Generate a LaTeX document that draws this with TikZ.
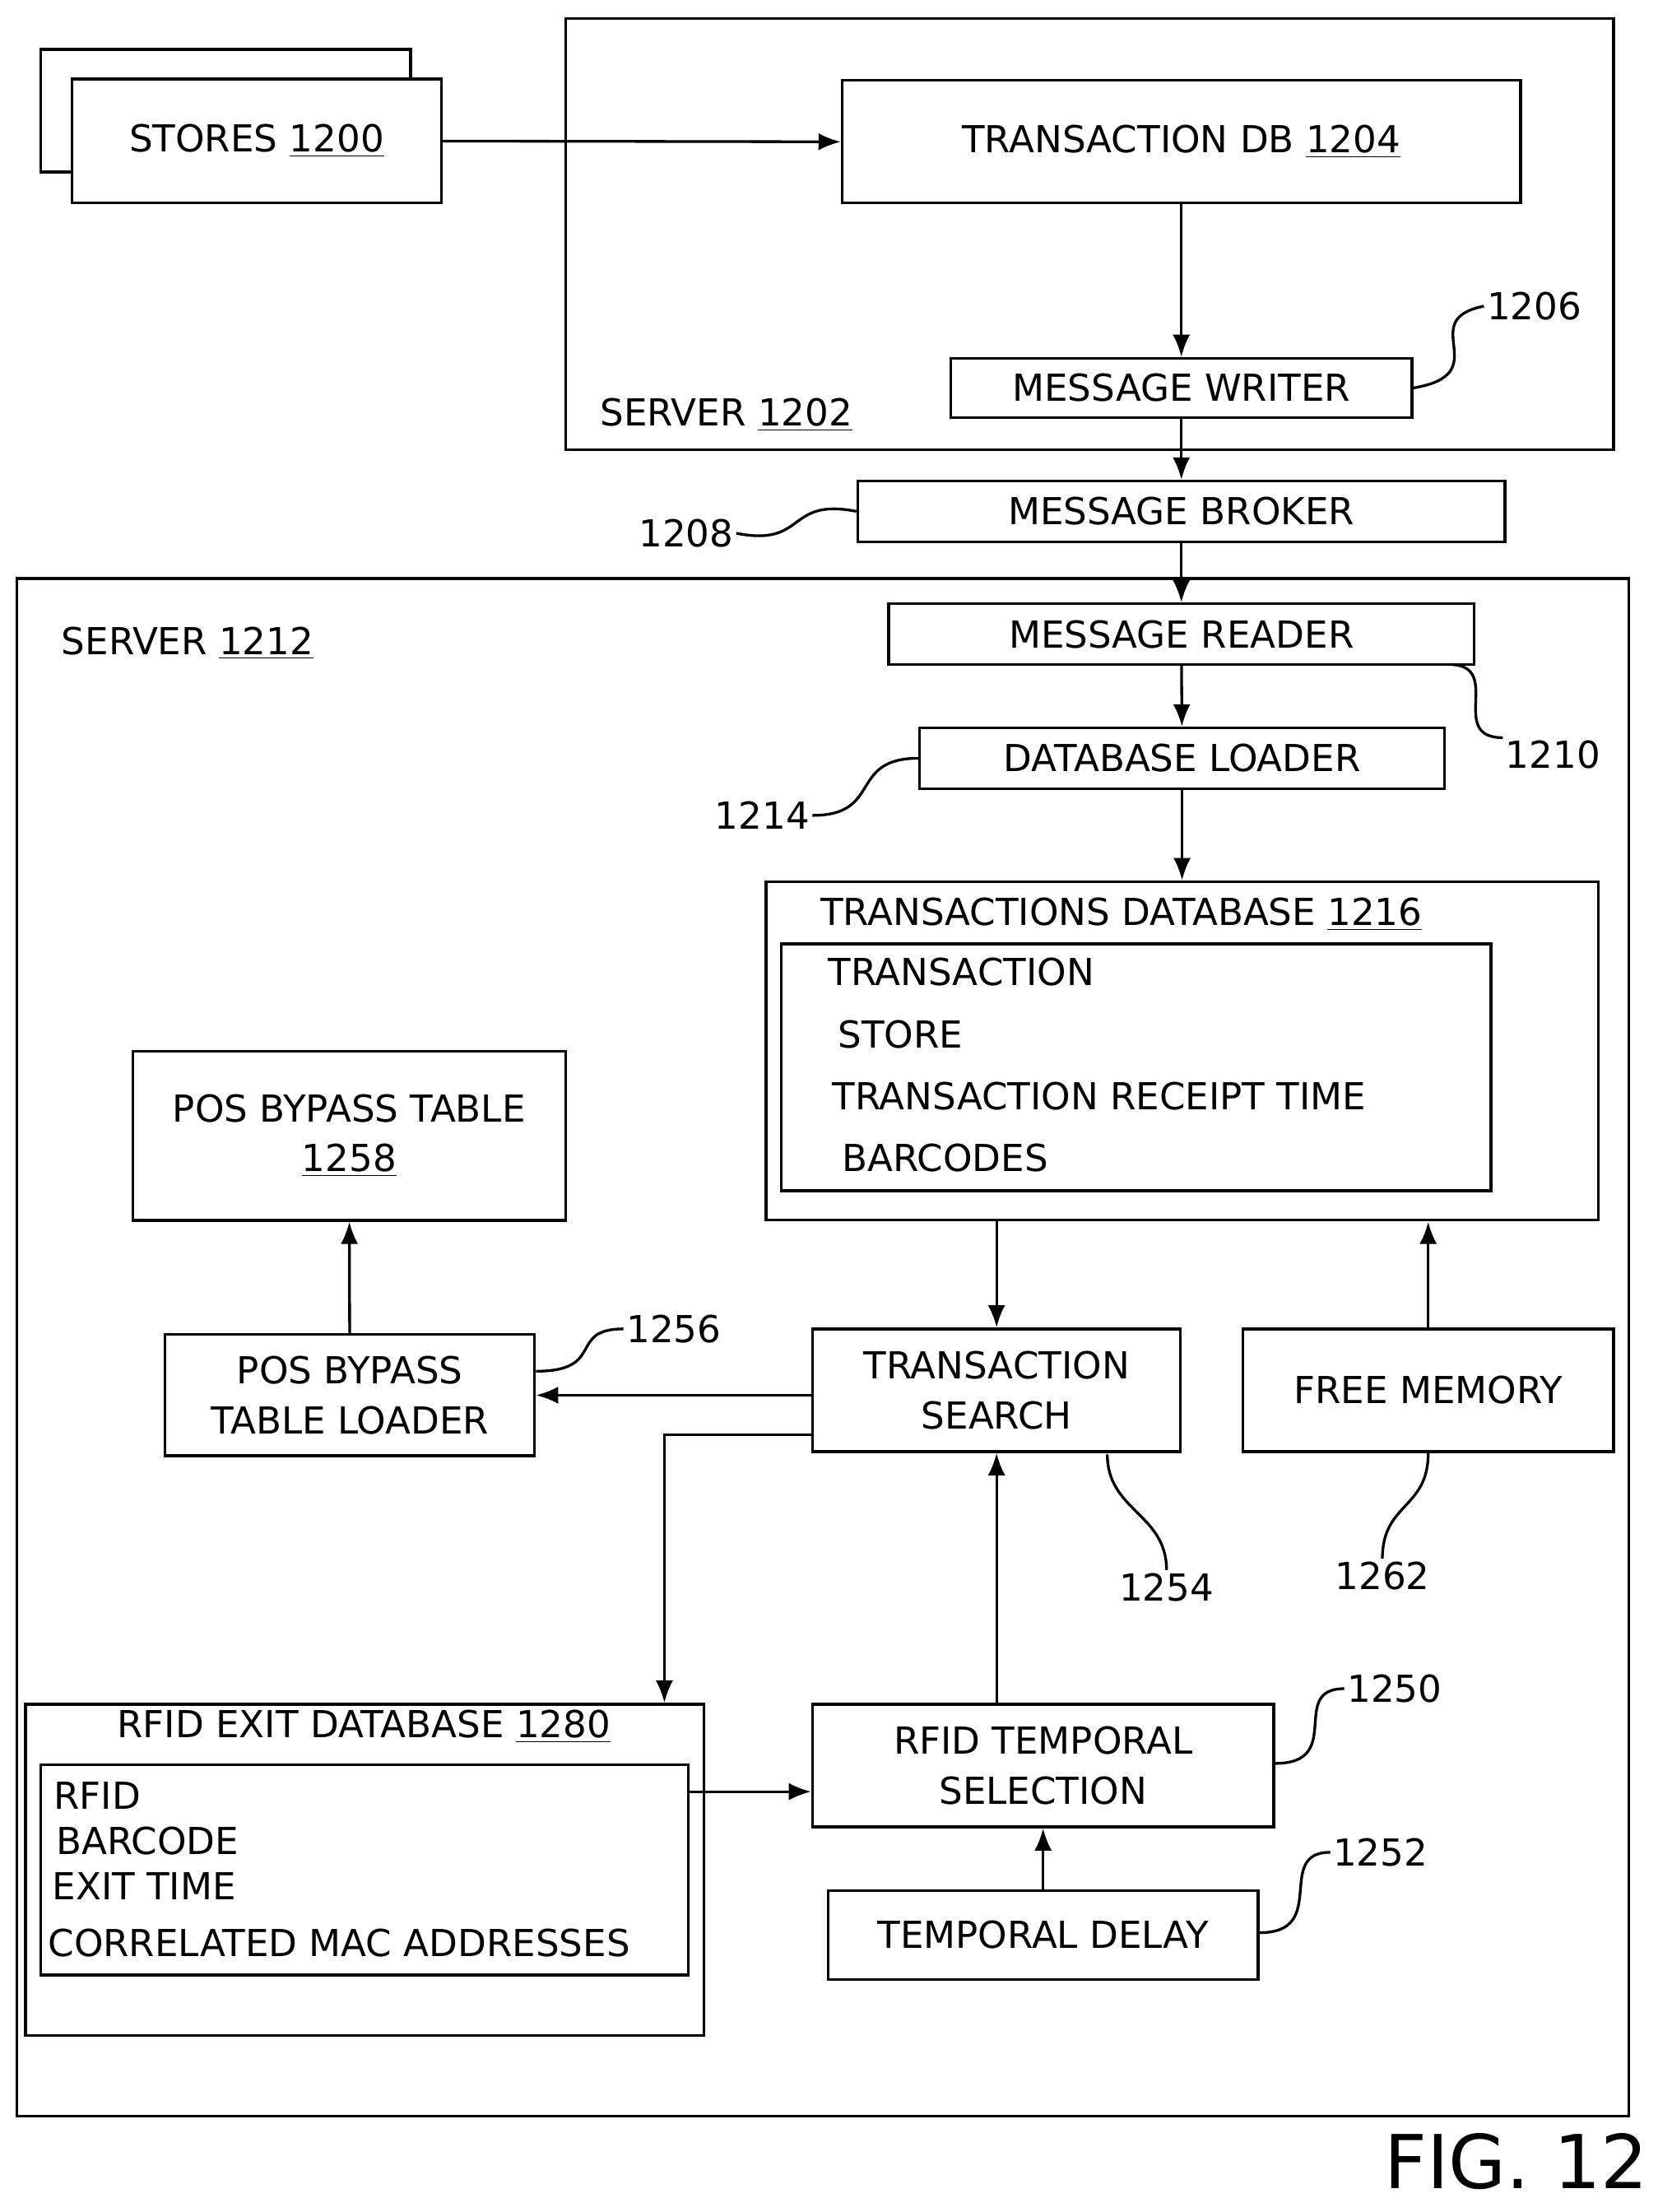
\documentclass[tikz,border=0pt]{standalone}
\usepackage{fontspec}
\setmainfont{DejaVu Sans}
\usetikzlibrary{arrows.meta,positioning}
\tikzset{
  box/.style={draw,line width=1.1pt,align=center,inner sep=0pt,font=\fontsize{15}{20}\selectfont},
  lbl/.style={font=\fontsize{15}{20}\selectfont,inner sep=1pt},
  arr/.style={-{Latex[length=9pt,width=7pt]},line width=1.1pt},
  sq/.style={line width=1.1pt}
}
\begin{document}
\begin{tikzpicture}[x=0.02cm,y=-0.02cm]
\useasboundingbox (0,0) rectangle (1185,1568);
% top server
\draw[line width=1.1pt] (51,122)--(29,122)--(29,35)--(291,35)--(291,56);
\node[box,fill=white,minimum width=5.24cm,minimum height=1.76cm] (stores) at (182,100) {STORES \underline{1200}};
\node[box,minimum width=14.86cm,minimum height=6.12cm] (srvA) at (772.5,166) {};
\node[lbl] (srvAl) at (515,294) {SERVER \underline{1202}};
\node[box,minimum width=9.62cm,minimum height=1.74cm] (tdb) at (837.5,100.5) {TRANSACTION DB \underline{1204}};
\node[box,minimum width=6.54cm,minimum height=0.84cm] (writer) at (837.5,275) {MESSAGE WRITER};
\node[box,minimum width=9.18cm,minimum height=0.86cm] (broker) at (837.5,362.5) {MESSAGE BROKER};
% bottom server
\node[box,minimum width=22.86cm,minimum height=21.8cm] (srvB) at (583.5,955) {};
\node[lbl] (srvBl) at (133,456) {SERVER \underline{1212}};
\node[box,minimum width=8.3cm,minimum height=0.86cm] (reader) at (837.5,449.5) {MESSAGE READER};
\node[box,minimum width=7.44cm,minimum height=0.86cm] (loader) at (838,537.5) {DATABASE LOADER};
\node[box,minimum width=11.8cm,minimum height=4.8cm] (trdb) at (838,745) {};
\node[lbl] (trdbl) at (795,648) {TRANSACTIONS DATABASE \underline{1216}};
\node[box,minimum width=10.06cm,minimum height=3.5cm] (trrec) at (805.5,756.5) {};
\node[lbl,anchor=west] (f1) at (585,689) {TRANSACTION};
\node[lbl,anchor=west] (f2) at (592,733) {STORE};
\node[lbl,anchor=west] (f3) at (588,777) {TRANSACTION RECEIPT TIME};
\node[lbl,anchor=west] (f4) at (595,821) {BARCODES};
\node[box,minimum width=6.14cm,minimum height=2.4cm] (postab) at (247.5,805) {POS BYPASS TABLE\\\underline{1258}};
\node[box,minimum width=5.24cm,minimum height=1.72cm] (posld) at (248,989) {POS BYPASS\\TABLE LOADER};
\node[box,minimum width=5.22cm,minimum height=1.74cm] (search) at (706.5,985.5) {TRANSACTION\\SEARCH};
\node[box,minimum width=5.26cm,minimum height=1.74cm] (free) at (1012.5,985.5) {FREE MEMORY};
\node[box,minimum width=9.62cm,minimum height=4.7cm] (rfid) at (258.5,1325.5) {};
\node[lbl] (rfidl) at (258,1224) {RFID EXIT DATABASE \underline{1280}};
\node[box,minimum width=9.18cm,minimum height=2.98cm] (rfrec) at (258.5,1325.5) {};
\node[lbl,anchor=west] (g1) at (36,1273) {RFID};
\node[lbl,anchor=west] (g2) at (38,1305) {BARCODE};
\node[lbl,anchor=west] (g3) at (35,1337) {EXIT TIME};
\node[lbl,anchor=west] (g4) at (32,1377) {CORRELATED MAC ADDRESSES};
\node[box,minimum width=6.54cm,minimum height=1.74cm] (sel) at (739.5,1251.5) {RFID TEMPORAL\\SELECTION};
\node[box,minimum width=6.1cm,minimum height=1.26cm] (delay) at (739.5,1371.5) {TEMPORAL DELAY};
\node[font=\fontsize{30}{36}\selectfont] (fig) at (1075,1532) {FIG. 12};
% arrows
\draw[arr] (stores.east) -- (tdb.west);
\draw[arr] (tdb) -- (writer);
\draw[arr] (writer) -- (broker);
\draw[arr] (broker) -- (reader);
\draw[arr] (reader) -- (loader);
\draw[arr] (loader) -- (trdb);
\draw[arr] (trdb.south -| search) -- (search);
\draw[arr] (search.west |- 0,989) -- (posld.east |- 0,989);
\coordinate (bend) at (471,1017);
\draw[arr] (search.west |- bend) -- (bend) -- (bend |- rfid.north);
\draw[arr] (posld) -- (postab);
\draw[arr] (free) -- (free |- trdb.south);
\draw[arr] (rfrec.east |- 0,1270) -- (sel.west |- 0,1270);
\draw[arr] (sel.north -| search) -- (search);
\draw[arr] (delay) -- (sel);
% reference numerals
\node[lbl,anchor=west] (n1206) at (1052,217) {1206};
\node[lbl,anchor=east] (n1208) at (522,378) {1208};
\node[lbl] (n1210) at (1101,535) {1210};
\node[lbl,anchor=east] (n1214) at (576,578) {1214};
\node[lbl,anchor=west] (n1256) at (442,942) {1256};
\node[lbl] (n1254) at (827,1125) {1254};
\node[lbl] (n1262) at (980,1117) {1262};
\node[lbl,anchor=west] (n1250) at (953,1197) {1250};
\node[lbl,anchor=west] (n1252) at (943,1313) {1252};
\draw[sq] (writer.east) .. controls +(60,-10) and +(-50,10) .. (n1206.west);
\draw[sq] (n1208.east) .. controls +(50,10) and +(-50,-10) .. (broker.west);
\draw[sq] (1027,471) .. controls +(40,0) and +(-40,0) .. (n1210.north west);
\draw[sq] (n1214.east) .. controls +(50,0) and +(-50,0) .. (loader.west);
\draw[sq] (posld.east |- 0,972) .. controls +(50,0) and +(-40,0) .. (n1256.west);
\draw[sq] (785,1031) .. controls +(0,40) and +(0,-40) .. (n1254.north);
\draw[sq] (free.south) .. controls +(0,40) and +(0,-40) .. (n1262.north);
\draw[sq] (sel.east |- 0,1250) .. controls +(50,0) and +(-40,0) .. (n1250.west);
\draw[sq] (delay.east |- 0,1370) .. controls +(50,0) and +(-40,0) .. (n1252.west);
\end{tikzpicture}
\end{document}
